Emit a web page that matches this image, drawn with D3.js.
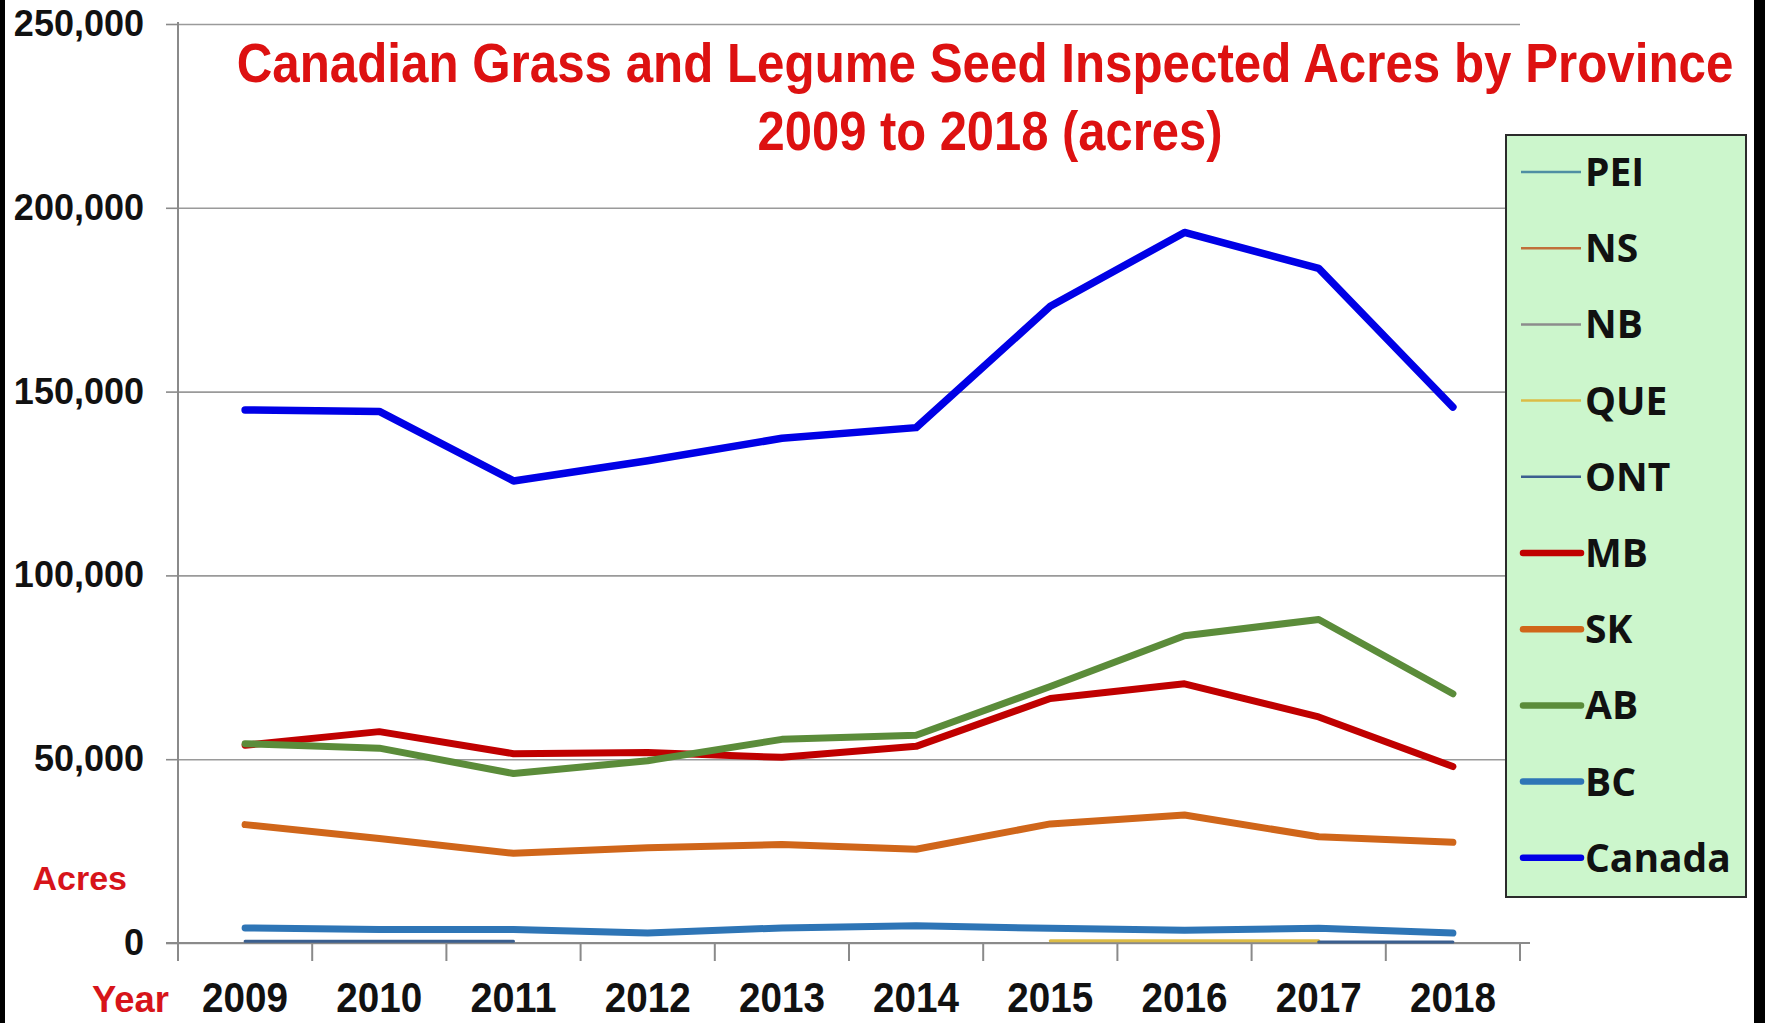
<!DOCTYPE html>
<html>
<head>
<meta charset="utf-8">
<script src="https://cdn.jsdelivr.net/npm/d3@7/dist/d3.min.js"></script>
<style>
  html, body { margin: 0; padding: 0; background: #fff; }
  svg { display: block; }
</style>
</head>
<body>
<svg id="chart" width="1765" height="1023"></svg>
<script>
// ---- data ----
const years = ["2009","2010","2011","2012","2013","2014","2015","2016","2017","2018"];
const yTicks = [0, 50000, 100000, 150000, 200000, 250000];
const seriesNames = ["PEI","NS","NB","QUE","ONT","MB","SK","AB","BC","Canada"];
const PEI    = [null,null,null,null,null,null,null,null,null,null];
const NS     = [null,null,null,null,null,null,null,null,null,null];
const NB     = [null,null,null,null,null,null,null,null,null,null];
const QUE    = [null,null,null,null,null,null,600,600,600,null];
const ONT    = [500,500,500,null,null,null,null,null,300,300];
const MB     = [53800,57500,51500,51800,50500,53500,66500,70500,61500,48000];
const SK     = [32200,28400,24400,25900,26800,25500,32400,34800,28900,27400];
const AB     = [54200,53000,46100,49600,55400,56500,69800,83600,88000,67800];
const BC     = [4100,3700,3700,2700,4100,4700,4000,3500,4000,2700];
const Canada = [145000,144600,125700,131200,137300,140200,173200,193300,183500,145800];
const titleLines = ["Canadian Grass and Legume Seed Inspected Acres by Province", "2009 to 2018 (acres)"];

(function () {
// ---- styles ----
const seriesValues = [PEI, NS, NB, QUE, ONT, MB, SK, AB, BC, Canada];
const colors = ["#4f8ea3","#c0703a","#8c8c8c","#dcbc46","#3b5f8f","#c00000","#d0661a","#5b8c3a","#2e75b6","#0000e6"];
const widths = [2.5,2.5,2.5,3,3,7,7,7,7,7.5];

const svg = d3.select("#chart");

// black side bars
svg.append("rect").attr("x",0).attr("y",0).attr("width",5).attr("height",1023).attr("fill","#000");
svg.append("rect").attr("x",1754).attr("y",0).attr("width",11).attr("height",1023).attr("fill","#000");

const pL = 178, pR = 1520, pT = 24, pB = 943;
const x = d3.scaleBand().domain(years).range([pL, pR]).padding(0);
const y = d3.scaleLinear().domain([0, 250000]).range([pB, pT]);
const cx = d => x(d) + x.bandwidth() / 2;

// gridlines
const grid = svg.append("g").attr("transform", `translate(${pL},0)`)
  .call(d3.axisLeft(y).tickValues(yTicks).tickSize(-(pR - pL)).tickFormat(""));
grid.select(".domain").remove();
grid.selectAll("line").attr("stroke", "#9a9a9a").attr("stroke-width", 1.6);

// y axis
const yAx = svg.append("g").attr("transform", `translate(${pL},0)`)
  .call(d3.axisLeft(y).tickValues(yTicks).tickSize(12).tickPadding(22).tickFormat(d3.format(",")));
yAx.select(".domain").remove();
yAx.selectAll("line").attr("stroke", "#8a8a8a").attr("stroke-width", 1.6);
yAx.selectAll("text")
  .attr("font-family", "'Liberation Sans', Arial, sans-serif")
  .attr("font-weight", "bold").attr("font-size", 36).attr("fill", "#111");
svg.append("line").attr("x1", pL).attr("x2", pL).attr("y1", pT - 2).attr("y2", pB + 18)
  .attr("stroke", "#8a8a8a").attr("stroke-width", 2);

// x axis (labels via axis, boundary ticks from band edges)
const xAx = svg.append("g").attr("transform", `translate(0,${pB})`)
  .call(d3.axisBottom(x).tickSize(0).tickPadding(38));
xAx.select(".domain").attr("stroke", "#8a8a8a").attr("stroke-width", 2)
  .attr("d", `M${pL - 12},0H${pR + 10}`);
xAx.selectAll("text")
  .attr("font-family", "'Liberation Sans Narrow', 'Arial Narrow', 'Liberation Sans', sans-serif")
  .attr("font-weight", "bold").attr("font-size", 43).attr("fill", "#111")
  .attr("textLength", 86).attr("lengthAdjust", "spacingAndGlyphs");
svg.append("g").selectAll("line").data(years.slice(1).concat(["end"])).join("line")
  .attr("x1", d => d === "end" ? pR : x(d))
  .attr("x2", d => d === "end" ? pR : x(d))
  .attr("y1", pB).attr("y2", pB + 18)
  .attr("stroke", "#8a8a8a").attr("stroke-width", 2);

// series lines
const line = d3.line()
  .defined(d => d.v !== null)
  .x(d => cx(d.year))
  .y(d => y(d.v));
seriesNames.forEach((name, i) => {
  const pts = years.map((yr, j) => ({year: yr, v: seriesValues[i][j]}));
  svg.append("path").datum(pts)
    .attr("d", line)
    .attr("fill", "none")
    .attr("stroke", colors[i])
    .attr("stroke-width", widths[i])
    .attr("stroke-linejoin", "round")
    .attr("stroke-linecap", "round");
});

// title: condensed by horizontal scaling to the reference width
function condensedTitle(txt, cxPos, baseY, targetW) {
  const g = svg.append("g");
  const t = g.append("text").text(txt)
    .attr("x", 0).attr("y", 0).attr("text-anchor", "middle")
    .attr("font-family", "'Liberation Sans Narrow', 'Arial Narrow', 'Liberation Sans', sans-serif")
    .attr("font-weight", "bold").attr("font-size", 56).attr("fill", "#dd1111");
  const w = t.node().getComputedTextLength() || targetW;
  g.attr("transform", `translate(${cxPos},${baseY}) scale(${targetW / w},1)`);
}
condensedTitle(titleLines[0], 985, 82, 1497);
condensedTitle(titleLines[1], 990, 150, 465);

// axis captions
svg.append("text").text("Acres")
  .attr("x", 127).attr("y", 878).attr("dy", "0.35em").attr("text-anchor", "end")
  .attr("font-family", "'Liberation Sans', Arial, sans-serif")
  .attr("font-weight", "bold").attr("font-size", 34).attr("fill", "#d7141a");
svg.append("text").text("Year")
  .attr("x", 92).attr("y", 999).attr("dy", "0.35em")
  .attr("font-family", "'Liberation Sans', Arial, sans-serif")
  .attr("font-weight", "bold").attr("font-size", 37).attr("fill", "#d7141a")
  .attr("textLength", 77).attr("lengthAdjust", "spacingAndGlyphs");

// legend
const lg = svg.append("g");
lg.append("rect").attr("x", 1506).attr("y", 135).attr("width", 240).attr("height", 762)
  .attr("fill", "#ccf6cc").attr("stroke", "#2b2b2b").attr("stroke-width", 2);
const items = lg.selectAll("g.item").data(seriesNames).join("g")
  .attr("transform", (d, i) => `translate(0,${172 + i * 76.2})`);
items.append("line")
  .attr("x1", (d, i) => widths[i] > 5 ? 1523 : 1521)
  .attr("x2", 1581).attr("y1", 0).attr("y2", 0)
  .attr("stroke", (d, i) => colors[i])
  .attr("stroke-width", (d, i) => widths[i] > 5 ? 6.5 : 2.5)
  .attr("stroke-linecap", (d, i) => widths[i] > 5 ? "round" : "butt");
items.append("text").text(d => d)
  .attr("x", 1585).attr("y", 0).attr("dy", "0.36em")
  .attr("font-family", "'Open Sans', 'Noto Sans', sans-serif")
  .attr("font-weight", "bold").attr("font-size", 39).attr("fill", "#111");
})();
</script>
</body>
</html>
